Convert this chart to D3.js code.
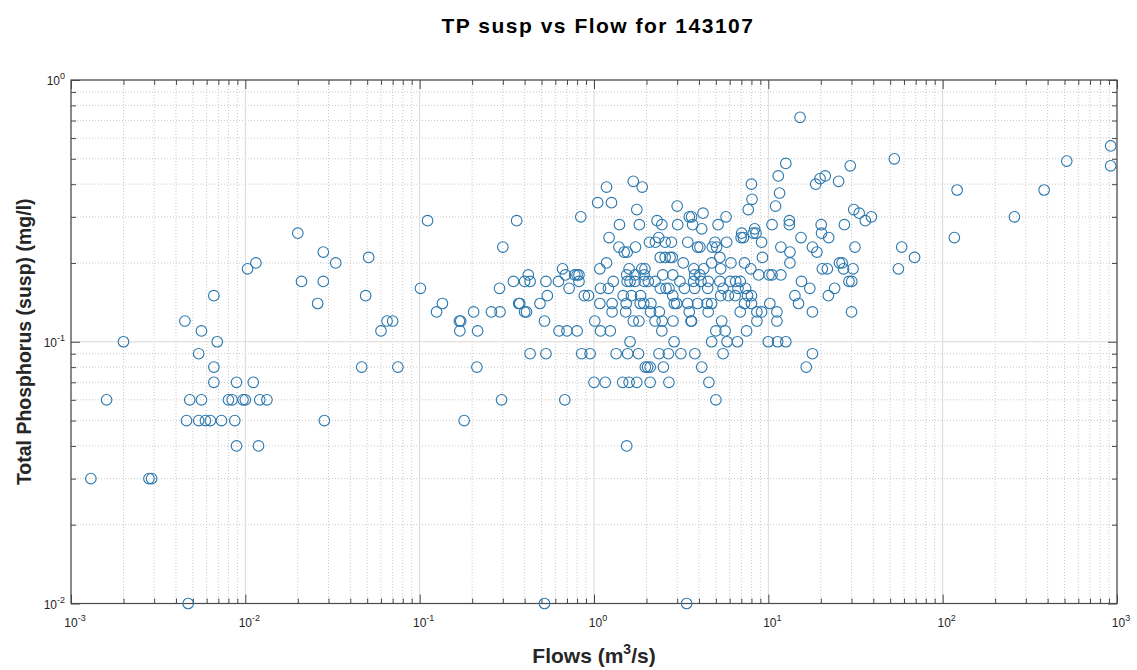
<!DOCTYPE html>
<html>
<head>
<meta charset="utf-8">
<script src="https://cdn.jsdelivr.net/npm/d3@7"></script>
<style>
  html, body { margin: 0; padding: 0; background: #ffffff; }
  svg { display: block; font-family: "Liberation Sans", Arial, sans-serif; }
</style>
</head>
<body>
<svg id="chart" width="1137" height="670"></svg>
<script>
// Flow (m3/s) and suspended total phosphorus (mg/l) sample pairs, station 143107
const flows = [
  0.0013, 0.0016, 0.0020, 0.0028, 0.0029, 0.0045, 0.0046, 0.0047, 0.0048, 0.0054,
  0.0054, 0.0056, 0.0056, 0.0059, 0.0063, 0.0066, 0.0066, 0.0066, 0.0069, 0.0073,
  0.0080, 0.0084, 0.0087, 0.0089, 0.0089, 0.0097, 0.0100, 0.0103, 0.0111, 0.0115,
  0.0119, 0.0121, 0.0133, 0.020, 0.021, 0.026, 0.028, 0.028, 0.0284, 0.033,
  0.0465, 0.049, 0.051, 0.060, 0.065, 0.070, 0.075, 0.101, 0.111, 0.125,
  0.135, 0.169, 0.172, 0.170, 0.18, 0.204, 0.213, 0.215, 0.258, 0.287,
  0.289, 0.295, 0.30, 0.345, 0.36, 0.37, 0.375, 0.40, 0.40, 0.41,
  0.42, 0.43, 0.43, 0.49, 0.52, 0.52, 0.53, 0.53, 0.54, 0.625,
  0.63, 0.66, 0.68, 0.685, 0.70, 0.72, 0.775, 0.80, 0.82, 0.82,
  0.80, 0.84, 0.85, 0.88, 0.93, 0.95, 1.00, 1.01, 1.05, 1.08,
  1.09, 1.08, 1.09, 1.18, 1.68, 1.89, 1.26, 1.76, 3.0, 1.40,
  1.82, 2.3, 2.45, 3.02, 3.52, 3.63, 4.22, 3.68, 4.15, 5.15,
  1.22, 1.39, 1.49, 1.55, 1.73, 2.08, 2.25, 2.35, 2.56, 2.78,
  3.45, 3.93, 4.05, 4.94, 4.77, 5.05, 2.4, 2.56, 2.73, 2.81,
  3.25, 4.73, 5.27, 1.18, 1.59, 1.88, 1.96, 2.48, 3.74, 4.26,
  3.78, 4.05, 5.33, 1.54, 1.72, 1.94, 1.55, 1.61, 1.72, 1.94,
  1.29, 1.21, 2.05, 2.24, 2.4, 2.59, 2.69, 2.83, 3.11, 3.3,
  3.73, 4.11, 4.52, 5.27, 3.78, 4.49, 1.47, 1.64, 1.85, 2.83,
  5.33, 1.27, 1.53, 1.84, 1.93, 2.12, 2.89, 2.98, 3.45, 3.93,
  4.45, 4.73, 1.27, 1.52, 2.11, 2.37, 3.52, 4.52, 1.68, 1.81,
  2.24, 2.46, 2.84, 3.6, 3.63, 5.4, 1.24, 2.45, 5.0, 1.61,
  2.88, 4.73, 1.34, 1.56, 1.80, 2.36, 2.67, 3.15, 3.79, 5.5,
  1.97, 2.03, 2.10, 2.50, 4.15, 1.16, 1.46, 1.59, 1.76, 2.10,
  2.69, 4.56, 5.0, 1.54, 3.4, 15.2, 12.6, 11.4, 8.0, 11.6,
  8.06, 11.0, 7.67, 5.72, 18.7, 19.8, 21.2, 25.3, 29.5, 13.2,
  13.2, 10.5, 8.35, 8.5, 8.2, 7.03, 7.2, 6.98, 15.4, 20.1,
  20.2, 22.2, 27.3, 5.77, 9.15, 11.8, 13.3, 13.3, 17.9, 19.0,
  9.25, 7.3, 6.1, 7.93, 8.8, 10.1, 10.5, 11.8, 20.4, 21.8,
  25.6, 26.5, 27.0, 29.0, 15.5, 17.3, 14.2, 14.9, 22.1, 24.0,
  17.9, 30.0, 6.05, 6.5, 6.9, 5.5, 6.7, 7.4, 5.9, 6.45,
  7.6, 8.0, 7.3, 8.0, 9.15, 10.2, 11.2, 11.2, 6.9, 8.6,
  8.6, 5.65, 7.5, 5.8, 6.65, 10.0, 11.3, 12.6, 17.9, 16.5,
  52.8, 30.9, 33.2, 36, 39, 31.4, 58.2, 69, 55.7, 30.6,
  30.1, 920, 920, 515, 121, 382, 258, 116.7
];

const tpSusp = [
  0.03, 0.06, 0.10, 0.03, 0.03, 0.12, 0.05, 0.01, 0.06, 0.09,
  0.05, 0.11, 0.06, 0.05, 0.05, 0.15, 0.08, 0.07, 0.10, 0.05,
  0.06, 0.06, 0.05, 0.07, 0.04, 0.06, 0.06, 0.19, 0.07, 0.20,
  0.04, 0.06, 0.06, 0.26, 0.17, 0.14, 0.22, 0.17, 0.05, 0.20,
  0.08, 0.15, 0.21, 0.11, 0.12, 0.12, 0.08, 0.16, 0.29, 0.13,
  0.14, 0.12, 0.12, 0.11, 0.05, 0.13, 0.08, 0.11, 0.13, 0.16,
  0.13, 0.06, 0.23, 0.17, 0.29, 0.14, 0.14, 0.17, 0.13, 0.13,
  0.18, 0.17, 0.09, 0.14, 0.12, 0.01, 0.17, 0.09, 0.15, 0.17,
  0.11, 0.19, 0.06, 0.18, 0.11, 0.16, 0.18, 0.18, 0.18, 0.17,
  0.11, 0.30, 0.09, 0.15, 0.15, 0.09, 0.07, 0.12, 0.34, 0.19,
  0.16, 0.14, 0.11, 0.39, 0.41, 0.39, 0.34, 0.32, 0.33, 0.28,
  0.28, 0.29, 0.28, 0.28, 0.30, 0.30, 0.31, 0.28, 0.27, 0.28,
  0.25, 0.23, 0.22, 0.22, 0.23, 0.24, 0.24, 0.25, 0.24, 0.24,
  0.24, 0.23, 0.23, 0.24, 0.23, 0.23, 0.21, 0.21, 0.21, 0.21,
  0.20, 0.20, 0.21, 0.20, 0.19, 0.19, 0.19, 0.18, 0.19, 0.19,
  0.18, 0.18, 0.19, 0.18, 0.18, 0.18, 0.17, 0.17, 0.17, 0.17,
  0.17, 0.16, 0.17, 0.17, 0.16, 0.16, 0.16, 0.18, 0.17, 0.16,
  0.17, 0.17, 0.17, 0.17, 0.16, 0.16, 0.15, 0.15, 0.15, 0.15,
  0.15, 0.14, 0.14, 0.14, 0.14, 0.14, 0.14, 0.14, 0.14, 0.14,
  0.14, 0.14, 0.13, 0.13, 0.13, 0.13, 0.13, 0.13, 0.12, 0.12,
  0.12, 0.12, 0.12, 0.12, 0.12, 0.12, 0.11, 0.11, 0.11, 0.10,
  0.10, 0.10, 0.09, 0.09, 0.09, 0.09, 0.09, 0.09, 0.09, 0.09,
  0.08, 0.08, 0.08, 0.08, 0.08, 0.07, 0.07, 0.07, 0.07, 0.07,
  0.07, 0.07, 0.06, 0.04, 0.01, 0.72, 0.48, 0.43, 0.40, 0.37,
  0.35, 0.33, 0.32, 0.30, 0.40, 0.42, 0.43, 0.41, 0.47, 0.29,
  0.28, 0.28, 0.27, 0.26, 0.26, 0.26, 0.25, 0.25, 0.25, 0.28,
  0.26, 0.25, 0.28, 0.24, 0.24, 0.23, 0.22, 0.20, 0.23, 0.22,
  0.21, 0.20, 0.20, 0.19, 0.18, 0.18, 0.18, 0.18, 0.19, 0.19,
  0.20, 0.20, 0.19, 0.17, 0.17, 0.16, 0.15, 0.14, 0.15, 0.16,
  0.13, 0.13, 0.17, 0.17, 0.17, 0.16, 0.16, 0.16, 0.15, 0.15,
  0.15, 0.15, 0.14, 0.14, 0.13, 0.14, 0.13, 0.12, 0.13, 0.13,
  0.12, 0.11, 0.11, 0.10, 0.10, 0.10, 0.10, 0.10, 0.09, 0.08,
  0.50, 0.32, 0.31, 0.29, 0.30, 0.23, 0.23, 0.21, 0.19, 0.19,
  0.17, 0.56, 0.47, 0.49, 0.38, 0.38, 0.30, 0.25
];

// Decade ticks for both log axes
const xTickExponents = [-3, -2, -1, 0, 1, 2, 3];
const yTickExponents = [-2, -1, 0];

const titleText = "TP susp vs Flow for 143107";
const yLabelText = "Total Phosphorus (susp) (mg/l)";

const svg = d3.select("#chart");
const plot = { left: 71, right: 1117, top: 80, bottom: 603.5 };

const x = d3.scaleLog().domain([1e-3, 1e3]).range([plot.left, plot.right]);
const y = d3.scaleLog().domain([1e-2, 1]).range([plot.bottom, plot.top]);

// minor (2..9) and major (10^n) positions
function minorValues(domain) {
  const out = [];
  const lo = Math.round(Math.log10(domain[0])), hi = Math.round(Math.log10(domain[1]));
  for (let e = lo; e < hi; e++) {
    for (let m = 2; m <= 9; m++) out.push(m * Math.pow(10, e));
  }
  return out;
}
const xMinor = minorValues(x.domain());
const yMinor = minorValues(y.domain());
const xMajor = xTickExponents.map(e => Math.pow(10, e));
const yMajor = yTickExponents.map(e => Math.pow(10, e));

const grid = svg.append("g");
// minor grid, dotted
grid.selectAll("line.xminor").data(xMinor).join("line")
  .attr("x1", d => x(d)).attr("x2", d => x(d))
  .attr("y1", plot.top).attr("y2", plot.bottom)
  .attr("stroke", "#c8c8c8").attr("stroke-width", 1).attr("stroke-dasharray", "1,2");
grid.selectAll("line.yminor").data(yMinor).join("line")
  .attr("y1", d => y(d)).attr("y2", d => y(d))
  .attr("x1", plot.left).attr("x2", plot.right)
  .attr("stroke", "#c8c8c8").attr("stroke-width", 1).attr("stroke-dasharray", "1,2");
// major grid, solid
grid.selectAll("line.xmajor").data(xMajor).join("line")
  .attr("x1", d => x(d)).attr("x2", d => x(d))
  .attr("y1", plot.top).attr("y2", plot.bottom)
  .attr("stroke", "#d8d8d8").attr("stroke-width", 1);
grid.selectAll("line.ymajor").data(yMajor).join("line")
  .attr("y1", d => y(d)).attr("y2", d => y(d))
  .attr("x1", plot.left).attr("x2", plot.right)
  .attr("stroke", "#d8d8d8").attr("stroke-width", 1);

// Axes with inward ticks on all four sides
const axisColor = "#4a4a4a";
function styleAxis(g) {
  g.select(".domain").remove();
  g.selectAll("line").attr("stroke", axisColor);
  g.selectAll("text").remove();
}
const majorLen = 9, minorLen = 5;
svg.append("g").attr("transform", `translate(0,${plot.bottom})`)
  .call(d3.axisBottom(x).tickValues(xMinor).tickSize(-minorLen)).call(styleAxis);
svg.append("g").attr("transform", `translate(0,${plot.bottom})`)
  .call(d3.axisBottom(x).tickValues(xMajor).tickSize(-majorLen)).call(styleAxis);
svg.append("g").attr("transform", `translate(0,${plot.top})`)
  .call(d3.axisTop(x).tickValues(xMinor).tickSize(-minorLen)).call(styleAxis);
svg.append("g").attr("transform", `translate(0,${plot.top})`)
  .call(d3.axisTop(x).tickValues(xMajor).tickSize(-majorLen)).call(styleAxis);
svg.append("g").attr("transform", `translate(${plot.left},0)`)
  .call(d3.axisLeft(y).tickValues(yMinor).tickSize(-minorLen)).call(styleAxis);
svg.append("g").attr("transform", `translate(${plot.left},0)`)
  .call(d3.axisLeft(y).tickValues(yMajor).tickSize(-majorLen)).call(styleAxis);
svg.append("g").attr("transform", `translate(${plot.right},0)`)
  .call(d3.axisRight(y).tickValues(yMinor).tickSize(-minorLen)).call(styleAxis);
svg.append("g").attr("transform", `translate(${plot.right},0)`)
  .call(d3.axisRight(y).tickValues(yMajor).tickSize(-majorLen)).call(styleAxis);

// box
svg.append("rect")
  .attr("x", plot.left).attr("y", plot.top)
  .attr("width", plot.right - plot.left).attr("height", plot.bottom - plot.top)
  .attr("fill", "none").attr("stroke", axisColor).attr("stroke-width", 1.2);

// Tick labels: 10 with a raised exponent
function powerLabel(sel, exp) {
  sel.append("tspan").text("10");
  sel.append("tspan").attr("dy", -6).attr("font-size", 9).text(String(exp));
}
const tickColor = "#262626";
svg.append("g").selectAll("text").data(xTickExponents).join("text")
  .attr("x", d => x(Math.pow(10, d)) + 4)
  .attr("y", plot.bottom + 23)
  .attr("text-anchor", "middle")
  .attr("font-size", 12).attr("fill", tickColor)
  .each(function (d) { powerLabel(d3.select(this), d); });
svg.append("g").selectAll("text").data(yTickExponents).join("text")
  .attr("x", plot.left - 6)
  .attr("y", d => y(Math.pow(10, d)) + 5)
  .attr("text-anchor", "end")
  .attr("font-size", 12).attr("fill", tickColor)
  .each(function (d) { powerLabel(d3.select(this), d); });

// Scatter points
const points = flows.map((f, i) => ({ f, v: tpSusp[i] }));
svg.append("g").selectAll("circle").data(points).join("circle")
  .attr("cx", d => x(d.f))
  .attr("cy", d => y(d.v))
  .attr("r", 5.3)
  .attr("fill", "none")
  .attr("stroke", "#2a77ad")
  .attr("stroke-width", 1.1);

// Title and axis labels
svg.append("text")
  .attr("x", (plot.left + plot.right) / 2 + 4).attr("y", 33)
  .attr("text-anchor", "middle")
  .attr("font-size", 21).attr("font-weight", "bold").attr("fill", "#000")
  .attr("letter-spacing", 1.5)
  .text(titleText);

const xl = svg.append("text")
  .attr("x", (plot.left + plot.right) / 2).attr("y", 663)
  .attr("text-anchor", "middle")
  .attr("font-size", 21).attr("font-weight", "bold").attr("fill", "#262626");
xl.append("tspan").text("Flows (m");
xl.append("tspan").attr("dy", -9).attr("font-size", 14).text("3");
xl.append("tspan").attr("dy", 9).text("/s)");

svg.append("text")
  .attr("transform", `translate(31,${(plot.top + plot.bottom) / 2}) rotate(-90)`)
  .attr("text-anchor", "middle")
  .attr("font-size", 19.5).attr("font-weight", "bold").attr("fill", "#262626")
  .text(yLabelText);
</script>
</body>
</html>
